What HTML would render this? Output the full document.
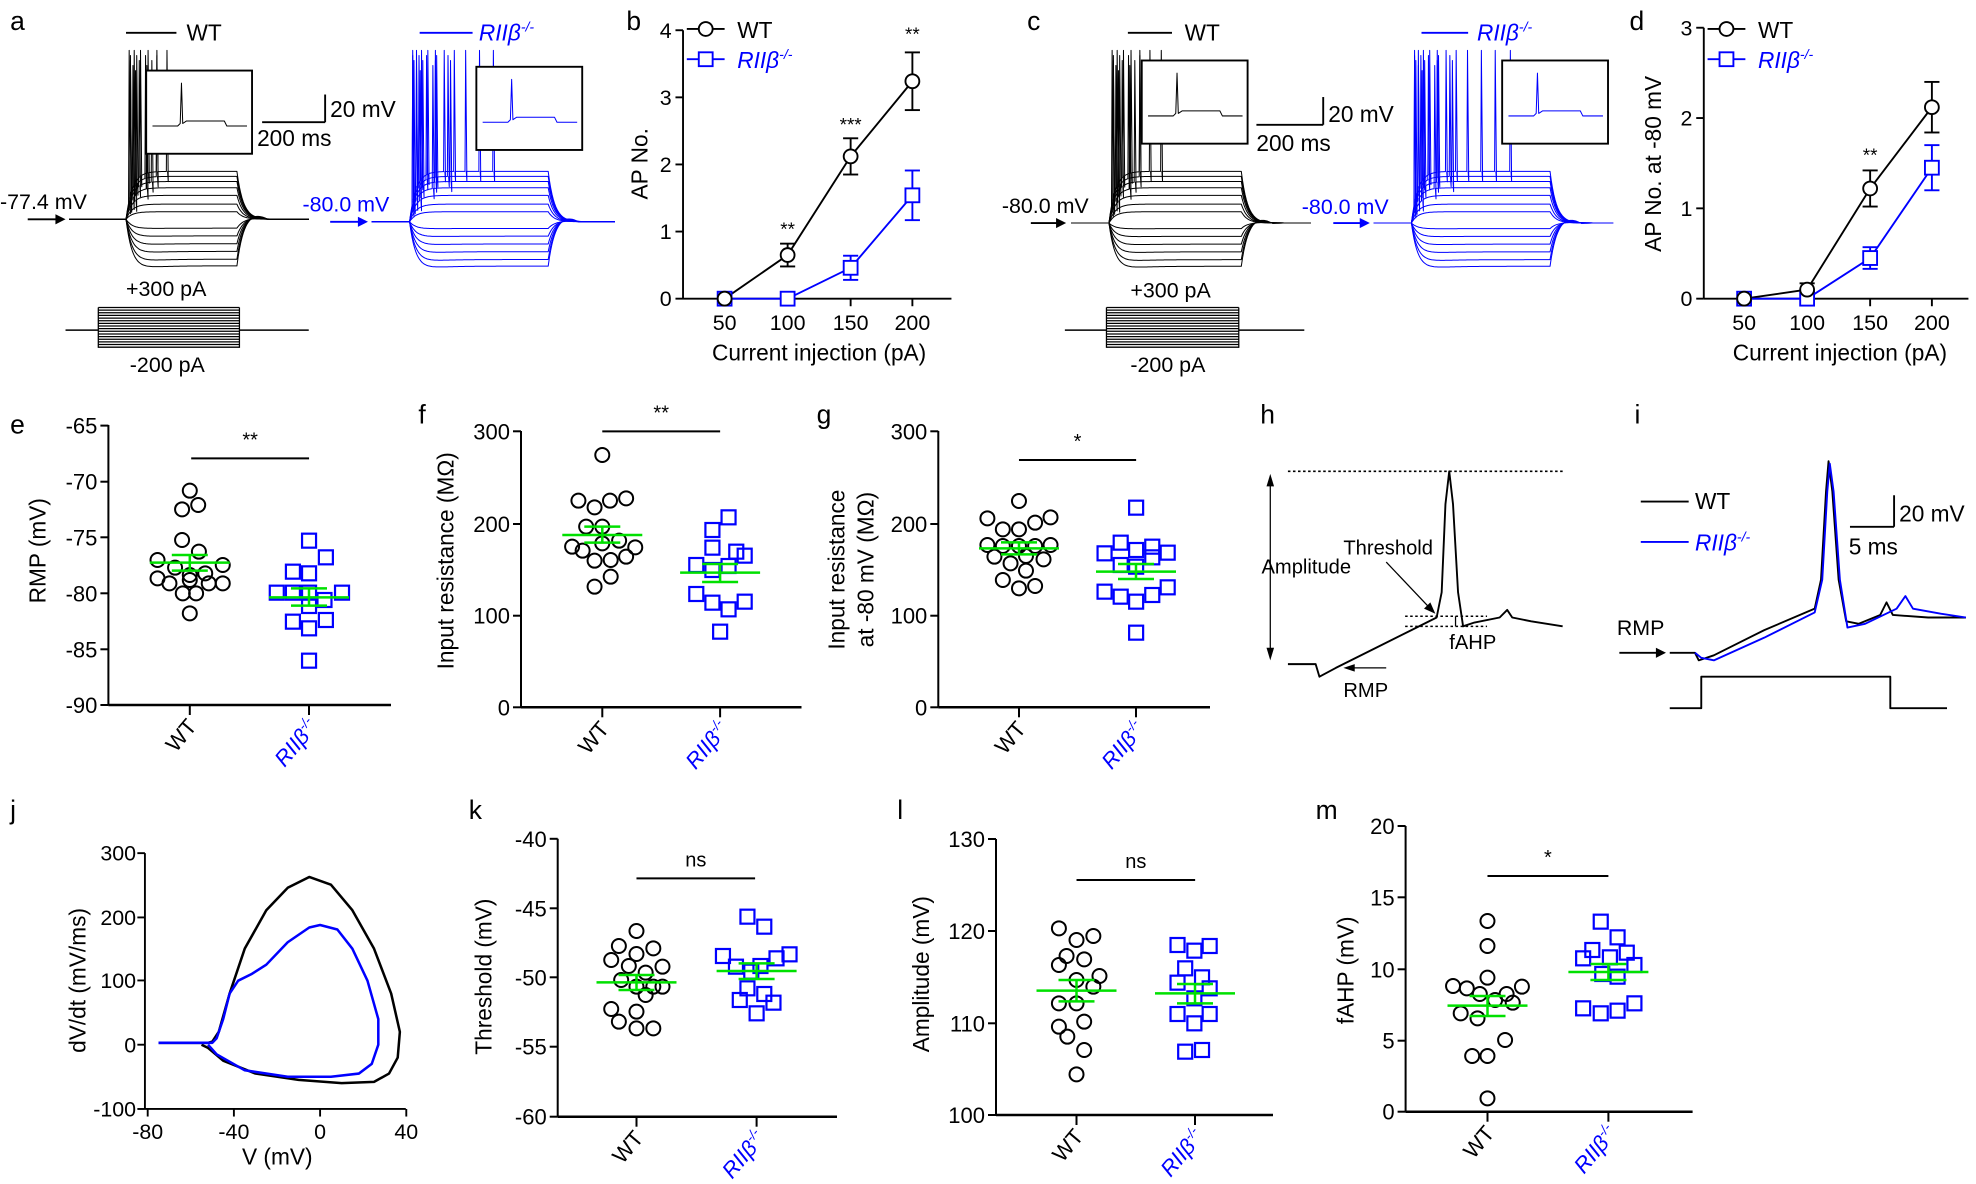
<!DOCTYPE html>
<html><head><meta charset="utf-8"><style>
html,body{margin:0;padding:0;background:#fff;}
svg{display:block;font-family:"Liberation Sans",Arial,sans-serif;}
</style></head><body>
<svg id="s" width="1976" height="1184" viewBox="0 0 1976 1184" xmlns="http://www.w3.org/2000/svg">
<rect width="1976" height="1184" fill="#fff"/>
<g id="d" transform="scale(1.2602)"></g>
<g id="o"></g>
</svg>
<script>
const B='#0000ff',G='#00e000';
let D='',O='';
function L(x1,y1,x2,y2,c,w,extra){return `<line x1="${x1}" y1="${y1}" x2="${x2}" y2="${y2}" stroke="${c||'#000'}" stroke-width="${w||1.5}" ${extra||''}/>`;}
function T(x,y,s,fs,a,c,extra){return `<text x="${x}" y="${y}" font-size="${fs||17}" text-anchor="${a||'start'}" fill="${c||'#000'}" ${extra||''}>${s}</text>`;}
const RII=(fs)=>`<tspan font-style="italic">RIIβ</tspan><tspan font-size="${fs*0.62}" dy="${-fs*0.4}" font-style="italic">-/-</tspan>`;
function P(pts,c,w){return `<polyline points="${pts.map(p=>p[0].toFixed(1)+','+p[1].toFixed(1)).join(' ')}" fill="none" stroke="${c}" stroke-width="${w||1}" stroke-linejoin="round"/>`;}
function traces(x0,xs,xe,x1,base,col,spikeSet){
 const lv=[136,140,144,149,155,162,168,182,189,196,203,210,216];
 let s='';
 lv.forEach((lev,i)=>{
  let pts=[];
  const hyp=lev>base;
  for(let x=x0;x<=x1;x+=1){
   let y;
   if(x<xs)y=base;
   else if(x<xe){let t=x-xs;y=base+(lev-base)*(1-Math.exp(-t/5));
     if(hyp)y+= -(lev-base)*0.12*(1-Math.exp(-t/15));}
   else{let lastv=lev-(hyp?(lev-base)*0.12:0);let t=x-xe;y=base+(lastv-base)*Math.exp(-t/5);
     if(hyp&&t<25)y-= (lev-base)*0.1*Math.sin(Math.PI*t/25);}
   pts.push([x,y]);
   if(i<spikeSet.length&&x>xs){const sp=spikeSet[i];if(sp.includes(x-xs)){pts.push([x+0.5,40+i*4]);pts.push([x+1.5,y+8]);}}
  }
  s+=P(pts,col,0.8);
 });
 return s;
}
function inset(bx,by,col){
 let s=`<rect x="${bx}" y="${by}" width="84" height="66" fill="#fff" stroke="#000" stroke-width="1.5"/>`;
 const b=by+44;
 s+=P([[bx+5,b],[bx+25,b],[bx+27,b-2],[bx+28,by+10],[bx+29,b-2],[bx+32,b-4],[bx+62,b-4],[bx+64,b],[bx+80,b]],col,0.8);
 return s;
}
D+=traces(55,100,188,245,174,'#000',[[2,6,11,17,24,32],[3,8,15,24],[3,10,20],[5,16],[7]]);
D+=inset(116,56,'#000');
D+=L(100,26,140,26)+T(148,32,'WT',18);
D+=L(258,75,258,97)+L(208,97,258,97)+T(262,93,'20 mV',18)+T(204,116,'200 ms',18);
D+=T(0,166,'-77.4 mV',17)+L(22,174,48,174)+`<polygon points="52,174 44,170 44,178" fill="#000"/>`;
D+=traces(295,325,435,488,176,B,[[2,5,9,14,20,27,35,44,55,66],[2,7,13,21,30],[3,10,20,32],[5,18],[8]]);
D+=inset(378,53,B);
D+=L(333,26,375,26,B)+`<text x="380" y="32" font-size="18" fill="${B}">${RII(18)}</text>`;
D+=T(240,168,'-80.0 mV',17,'start',B)+L(262,176,288,176,B)+`<polygon points="292,176 284,172 284,180" fill="${B}"/>`;
function proto(x0,bx1,bx2,x1,y){let s=L(x0,y,bx1,y,'#000',1.2)+L(bx2,y,x1,y,'#000',1.2);for(let k=0;k<=15;k++){let yy=244+k*2.1;s+=L(bx1,yy,bx2,yy,'#000',1);}s+=L(bx1,244,bx1,276,'#000',1)+L(bx2,244,bx2,276,'#000',1);return s;}
D+=proto(52,78,190,245,262)+T(100,235,'+300 pA',17)+T(103,295,'-200 pA',17);
D+=traces(850,880,985,1040,177,'#000',[[2,6,11,17,24,32,41],[3,8,15,24],[3,10,20],[5,16],[7]]);
D+=inset(906,48,'#000');
D+=L(895,26,930,26)+T(940,32,'WT',18);
D+=L(1050,77,1050,99)+L(997,99,1050,99)+T(1054,97,'20 mV',18)+T(997,120,'200 ms',18);
D+=T(795,169,'-80.0 mV',17)+L(818,177,842,177)+`<polygon points="846,177 838,173 838,181" fill="#000"/>`;
D+=traces(1090,1120,1230,1280,177,B,[[2,5,9,14,20,27,35,44,55,66,78],[2,7,13,21,30],[3,10,20,32],[5,18],[8]]);
D+=inset(1192,48,B);
D+=L(1128,26,1165,26,B)+`<text x="1172" y="32" font-size="18" fill="${B}">${RII(18)}</text>`;
D+=T(1033,170,'-80.0 mV',17,'start',B)+L(1058,177,1082,177,B)+`<polygon points="1087,177 1079,173 1079,181" fill="${B}"/>`;
D+=proto(845,878,983,1035,262)+T(897,236,'+300 pA',17)+T(897,295,'-200 pA',17);
function lineplot(ax,ytop,ybot,nt,xend,xs,wt,we,rt,re,stars){
 let s=L(ax,ytop,ax,ybot)+L(ax,ybot,xend,ybot);
 const sc=(ybot-ytop)/nt;
 for(let i=0;i<=nt;i++){let y=ybot-i*sc;s+=L(ax-6,y,ax,y)+T(ax-9,y+6,i,17,'end');}
 ['50','100','150','200'].forEach((l,i)=>{s+=L(xs[i],ybot,xs[i],ybot+6)+T(xs[i],ybot+25,l,17,'middle');});
 const Y=v=>ybot-v*sc;
 s+=P(xs.map((x,i)=>[x,Y(wt[i])]),'#000',1.5);
 s+=P(xs.map((x,i)=>[x,Y(rt[i])]),B,1.5);
 xs.forEach((x,i)=>{if(we[i]){s+=L(x,Y(wt[i]-we[i]),x,Y(wt[i]+we[i]))+L(x-6,Y(wt[i]-we[i]),x+6,Y(wt[i]-we[i]))+L(x-6,Y(wt[i]+we[i]),x+6,Y(wt[i]+we[i]));}
  if(re[i]){s+=L(x,Y(rt[i]-re[i]),x,Y(rt[i]+re[i]),B)+L(x-6,Y(rt[i]-re[i]),x+6,Y(rt[i]-re[i]),B)+L(x-6,Y(rt[i]+re[i]),x+6,Y(rt[i]+re[i]),B);}
  s+=`<rect x="${x-5.5}" y="${Y(rt[i])-5.5}" width="11" height="11" fill="#fff" stroke="${B}" stroke-width="1.5"/>`;
  s+=`<circle cx="${x}" cy="${Y(wt[i])}" r="5.5" fill="#fff" stroke="#000" stroke-width="1.5"/>`;});
 stars.forEach(st=>{s+=T(st[0],st[1],st[2],15,'middle');});
 s+=L(ax+3,23,ax+33,23)+`<circle cx="${ax+18}" cy="23" r="5.5" fill="#fff" stroke="#000" stroke-width="1.5"/>`+T(ax+43,30,'WT',18);
 s+=L(ax+3,47,ax+33,47,B)+`<rect x="${ax+12.5}" y="41.5" width="11" height="11" fill="#fff" stroke="${B}" stroke-width="1.5"/>`+`<text x="${ax+43}" y="54" font-size="18" fill="${B}">${RII(18)}</text>`;
 return s;
}
D+=lineplot(542,24,237,4,755,[575,625,675,724],[0,0.65,2.12,3.24],[0,0.17,0.27,0.43],[0,0,0.46,1.54],[0,0,0.18,0.37],[[625,187,'**'],[675,104,'***'],[724,32,'**']]);
D+=T(650,286,'Current injection (pA)',18,'middle')+T(0,0,'AP No.',18,'middle','#000','transform="translate(514,130) rotate(-90)"');
D+=lineplot(1352,22,237,3,1562,[1384,1434,1484,1533],[0,0.1,1.22,2.12],[0,0.07,0.2,0.28],[0,0,0.45,1.45],[0,0,0.12,0.25],[[1484,128,'**']]);
D+=T(1460,286,'Current injection (pA)',18,'middle')+T(0,0,'AP No. at -80 mV',18,'middle','#000','transform="translate(1318,130) rotate(-90)"');
[['a',8,24],['b',497,24],['c',815,24],['d',1293,24],['e',8,344],['f',332,336],['g',648,336],['h',1000,336],['i',1297,336],['j',8,650],['k',372,650],['l',712,650],['m',1044,650]].forEach(p=>{D+=T(p[1],p[2],p[0],21);});
D+=T(0,0,'RMP (mV)',18,'middle','#000','transform="translate(36,437) rotate(-90)"');
D+=T(0,0,'Input resistance (MΩ)',18,'middle','#000','transform="translate(360,445) rotate(-90)"');
D+=T(0,0,'Input resistance',18,'middle','#000','transform="translate(670,452) rotate(-90)"');
D+=T(0,0,'at -80 mV (MΩ)',18,'middle','#000','transform="translate(693,452) rotate(-90)"');
D+=T(0,0,'Threshold (mV)',18,'middle','#000','transform="translate(390,775) rotate(-90)"');
D+=T(0,0,'Amplitude (mV)',18,'middle','#000','transform="translate(737,773) rotate(-90)"');
D+=T(0,0,'fAHP (mV)',18,'middle','#000','transform="translate(1074,770) rotate(-90)"');
D+=L(1022,374,1240,374,'#000',1.2,'stroke-dasharray="2,2"');
D+=L(1115,489,1180,489,'#000',1.2,'stroke-dasharray="2,2"')+L(1115,497,1180,497,'#000',1.2,'stroke-dasharray="2,2"');
D+=P([[1022,527],[1044,527],[1047,537],[1060,530],[1090,515],[1120,500],[1140,490],[1144,470],[1147,400],[1150,374],[1153,400],[1157,470],[1161,497],[1170,494],[1190,490],[1196,484],[1200,490],[1215,493],[1240,497]],'#000',1.5);
D+=L(1008,380,1008,520,'#000',1)+`<polygon points="1008,376 1005,386 1011,386"/><polygon points="1008,524 1005,514 1011,514"/>`;
D+=T(1001,455,'Amplitude',16)+T(1066,440,'Threshold',16)+L(1100,446,1136,484,'#000',1)+`<polygon points="1139,487 1130,483 1135,478"/>`;
D+=T(1150,515,'fAHP',16)+T(1066,553,'RMP',16)+L(1070,530,1100,530,'#000',1)+`<polygon points="1066,530 1075,527 1075,533"/>`;
D+=L(1155,489,1155,497,'#000',1);
D+=L(1302,398,1340,398)+T(1345,404,'WT',18)+L(1302,430,1340,430,B)+`<text x="1345" y="437" font-size="18" fill="${B}">${RII(18)}</text>`;
D+=L(1503,393,1503,418)+L(1468,418,1503,418)+T(1507,414,'20 mV',18)+T(1467,440,'5 ms',18);
D+=T(1283,504,'RMP',17)+L(1285,518,1316,518)+`<polygon points="1322,518 1314,514 1314,522"/>`;
D+=P([[1325,518],[1345,518],[1348,524],[1360,520],[1400,500],[1440,483],[1445,460],[1449,390],[1451,366],[1454,390],[1459,460],[1465,493],[1475,495],[1492,488],[1497,478],[1502,488],[1530,490],[1560,490]],'#000',1.5);
D+=P([[1345,518],[1350,522],[1360,524],[1400,506],[1440,486],[1446,460],[1450,390],[1452,368],[1455,390],[1460,460],[1466,498],[1480,495],[1505,483],[1512,473],[1518,483],[1540,487],[1560,490]],B,1.5);
D+=P([[1325,562],[1350,562],[1350,537],[1500,537],[1500,562],[1545,562]],'#000',1.5);
const JX=v=>254+v*1.71,JY=d=>829-d*0.508;
D+=L(115,677,115,880)+L(115,880,322,880);
[[300,677],[200,728],[100,778],[0,829],[-100,880]].forEach(t=>{D+=L(109,t[1],115,t[1])+T(108,t[1]+6,t[0],17,'end');});
[-80,-40,0,40].forEach(v=>{D+=L(JX(v),880,JX(v),886)+T(JX(v),904,v,17,'middle');});
D+=T(220,924,'V (mV)',18,'middle')+T(0,0,'dV/dt (mV/ms)',18,'middle','#000','transform="translate(68,778) rotate(-90)"');
const jb=[[-75,3],[-52,3],[-50,5],[-47,20],[-42,80],[-35,150],[-25,210],[-15,245],[-5,262],[5,250],[15,210],[25,150],[33,80],[37,20],[36,-20],[32,-45],[25,-58],[10,-60],[-10,-55],[-30,-45],[-45,-25],[-52,-5],[-55,0]];
const jl=[[-75,3],[-50,3],[-48,10],[-45,40],[-42,80],[-38,100],[-32,110],[-25,125],[-15,160],[-5,183],[0,187],[8,180],[15,150],[22,100],[27,40],[27,0],[24,-30],[18,-45],[5,-50],[-15,-50],[-35,-40],[-48,-15],[-52,0]];
D+=P(jb.map(p=>[JX(p[0]),JY(p[1])]),'#000',2)+P(jl.map(p=>[JX(p[0]),JY(p[1])]),B,2);
function sc(ax,ytop,ybot,xend,ticks,tx,sig,sigTxt,wt,rt,wm,rm,conv){
 let s=L(ax,ytop,ax,ybot,'#000',2)+L(ax,ybot,xend,ybot,'#000',2.5);
 ticks.forEach(t=>{s+=L(ax-8,t[1],ax,t[1],'#000',2)+T(ax-11,t[1]+8,t[0],22,'end');});
 s+=L(tx[0],ybot,tx[0],ybot+10,'#000',2)+L(tx[1],ybot,tx[1],ybot+10,'#000',2);
 s+=T(0,0,'WT',22,'end','#000',`transform="translate(${tx[0]+8},${ybot+22}) rotate(-50)"`);
 s+=`<text font-size="22" text-anchor="end" fill="${B}" transform="translate(${tx[1]+10},${ybot+22}) rotate(-50)">${RII(22)}</text>`;
 const c=conv;
 let sx1=c(sig[0],sig[1]),sx2=c(sig[2],sig[1]);
 s+=L(sx1[0],sx1[1],sx2[0],sx1[1],'#000',2)+T((sx1[0]+sx2[0])/2,sx1[1]-12,sigTxt,20,'middle');
 wt.forEach(p=>{const q=c(p[0],p[1]);s+=`<circle cx="${q[0]}" cy="${q[1]}" r="7" fill="none" stroke="#000" stroke-width="2"/>`;});
 rt.forEach(p=>{const q=c(p[0],p[1]);s+=`<rect x="${q[0]-7}" y="${q[1]-7}" width="14" height="14" fill="none" stroke="${B}" stroke-width="2.2"/>`;});
 [[wm,tx[0]],[rm,tx[1]]].forEach(([m,x])=>{const y=c(0,m[0])[1],y1=c(0,m[1])[1],y2=c(0,m[2])[1];
  s+=L(x-40,y,x+40,y,G,2.5)+L(x-18,y1,x+18,y1,G,2.5)+L(x-18,y2,x+18,y2,G,2.5)+L(x,y1,x,y2,G,2.5);});
 return s;
}
const c2=(x,y)=>[100+x/1.4255,420+y/3];
const c3=(x,y)=>[550+x/1.3067,840+y/3];
O+=sc(108.4,425,705,391,[[-65,425.6],[-70,481.7],[-75,537.3],[-80,593.3],[-85,649.3],[-90,705]],[189.8,309],[130,115,298],'**',
 [[128,212],[117,268],[140,255],[117,360],[141,395],[82,420],[107,443],[128,465],[150,460],[175,435],[82,475],[99,490],[128,480],[155,490],[175,490],[118,520],[137,520],[128,580]],
 [[298,362],[322,412],[275,455],[298,460],[252,518],[275,518],[298,518],[345,518],[320,540],[298,558],[275,605],[322,600],[298,625],[298,722]],
 [428,405,452],[532,505,557],c2);
O+=sc(521,431,707.3,801.5,[[300,431.3],[200,524],[100,615.7],[0,707.3]],[602.3,720.1],[716,34,884],'**',
 [[716,105],[682,242],[705,262],[727,242],[750,235],[693,320],[716,320],[673,380],[688,392],[716,370],[740,362],[763,382],[705,422],[728,420],[750,410],[728,470],[705,500]],
 [[896,292],[873,330],[873,383],[907,395],[919,407],[850,435],[873,450],[896,438],[850,522],[873,548],[919,545],[896,568],[884,635]],
 [345,320,368],[458,432,486],c2);
O+=sc(938.3,431,707.3,1210,[[300,431.3],[200,524],[100,615.7],[0,707.3]],[1019,1136],[1310,120,1477],'*',
 [[1310,243],[1265,295],[1287,328],[1310,328],[1333,308],[1355,292],[1265,375],[1287,378],[1310,378],[1333,378],[1355,375],[1275,410],[1298,430],[1320,408],[1345,418],[1320,452],[1287,480],[1310,505],[1333,498]],
 [[1477,263],[1455,368],[1500,380],[1432,400],[1477,390],[1522,398],[1500,412],[1455,435],[1477,440],[1432,515],[1455,530],[1477,545],[1500,525],[1522,502],[1477,638]],
 [385,367,403],[455,432,477],c2);
O+=sc(557.7,838.8,1116.7,837,[[-40,838.8],[-45,908.3],[-50,977.3],[-55,1046.7],[-60,1116.7]],[636.5,756.6],[113,115,268],'ns',
 [[113,273],[90,318],[135,325],[113,342],[80,360],[103,378],[125,398],[147,380],[93,420],[113,440],[135,440],[147,440],[125,465],[80,507],[113,515],[90,545],[113,565],[135,565]],
 [[258,230],[280,260],[226,348],[313,343],[296,355],[243,380],[263,395],[275,378],[258,445],[280,462],[248,480],[292,488],[270,520]],
 [427,405,450],[393,370,417],c3);
O+=sc(996,839,1115,1273,[[130,839],[120,931],[110,1023.3],[100,1115]],[1076.5,1195],[688,120,843],'ns',
 [[665,265],[688,300],[710,288],[675,348],[698,358],[665,375],[718,408],[688,420],[710,440],[665,490],[688,490],[698,545],[665,560],[676,590],[698,630],[688,703]],
 [[820,315],[842,332],[862,318],[830,385],[852,412],[820,428],[862,445],[842,475],[820,522],[862,522],[842,550],[830,635],[852,630]],
 [452,420,484],[460,432,490],c3);
O+=sc(1405.6,826,1111.7,1692.6,[[20,826],[15,897.3],[10,969.3],[5,1040.7],[0,1111.7]],[1487.5,1608.4],[1225,108,1383],'*',
 [[1225,243],[1225,318],[1225,413],[1180,438],[1198,445],[1215,462],[1250,462],[1270,440],[1235,480],[1258,488],[1190,520],[1212,535],[1248,600],[1205,648],[1225,648],[1225,775]],
 [[1373,245],[1395,292],[1362,330],[1350,355],[1385,352],[1407,338],[1417,375],[1375,402],[1395,410],[1350,505],[1373,520],[1395,512],[1417,490]],
 [497,468,528],[396,372,420],c3);
document.getElementById('d').innerHTML=D;
document.getElementById('o').innerHTML=O;
</script>
</body></html>
